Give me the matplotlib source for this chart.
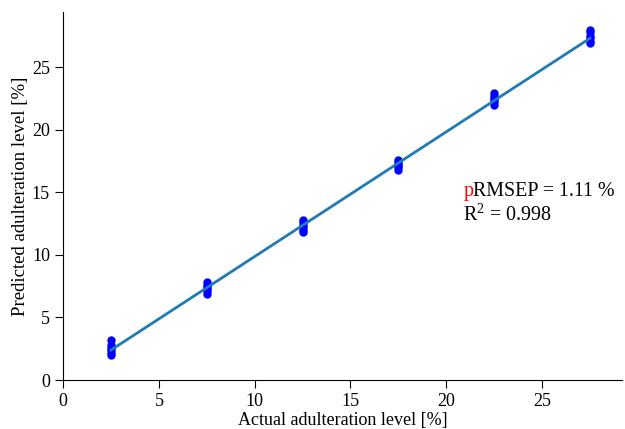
import numpy as np
import matplotlib.pyplot as plt

plt.rcParams['font.family'] = ['Liberation Serif', 'DejaVu Serif']
plt.rcParams['mathtext.fontset'] = 'custom'
plt.rcParams['mathtext.rm'] = 'Liberation Serif'

# ---- data ----
actual = [2.5] * 6 + [7.5] * 6 + [12.5] * 6 + [17.5] * 6 + [22.5] * 6 + [27.5] * 6
predicted = [2.0, 2.2, 2.4, 2.6, 2.8, 3.2,
             6.9, 7.1, 7.3, 7.4, 7.6, 7.8,
             11.8, 12.0, 12.2, 12.4, 12.6, 12.8,
             16.8, 17.0, 17.1, 17.3, 17.4, 17.6,
             22.0, 22.2, 22.4, 22.5, 22.7, 22.9,
             26.9, 27.1, 27.3, 27.5, 27.8, 28.0]
fit_x = [2.5, 27.5]
fit_y = [2.4, 27.3]

fig = plt.figure(figsize=(6.25, 4.29), dpi=100)
ax = fig.add_axes([0.101, 0.114, 0.895, 0.858])

ax.plot(actual, predicted, 'o', color='blue', markersize=5, zorder=2)
ax.plot(fit_x, fit_y, color='#1f7ab5', linewidth=2, zorder=3)

ax.set_xlim(0, 29.2)
ax.set_ylim(0, 29.4)
ax.set_xticks([0, 5, 10, 15, 20, 25])
ax.set_yticks([0, 5, 10, 15, 20, 25])
ax.spines['top'].set_visible(False)
ax.spines['right'].set_visible(False)
ax.tick_params(labelsize=13, length=6)

ax.set_xlabel('Actual adulteration level [%]', fontsize=13, labelpad=1)
ax.set_ylabel('Predicted adulteration level [%]', fontsize=13.5, labelpad=2)

# red "p" then the rest of the label right after it
p_txt = ax.text(20.9, 14.7, 'p', color='red', fontsize=14.4)
ax.annotate('RMSEP = 1.11 %', xy=(1, 0), xycoords=p_txt, va='bottom',
            color='black', fontsize=14.4)
ax.text(20.9, 12.75, r'R$^{\mathrm{2}}$ = 0.998', color='black', fontsize=14.4)

fig.savefig('out.png', dpi=100)
